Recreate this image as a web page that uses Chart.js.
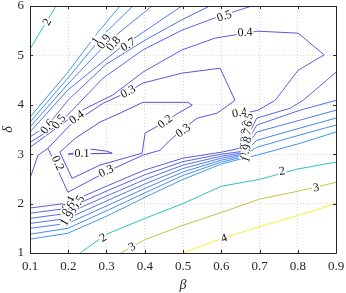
<!DOCTYPE html>
<html>
<head>
<meta charset="utf-8">
<script src="https://cdn.jsdelivr.net/npm/chart.js@4.4.1/dist/chart.umd.min.js"></script>
<style>
  html, body { margin: 0; padding: 0; background: #fff; }
</style>
</head>
<body>
<canvas id="contour" width="346" height="293"></canvas>
<script>
// contour levels and their polylines, [beta, delta] pairs
const levels = [0.1, 0.2, 0.3, 0.4, 0.5, 0.6, 0.7, 0.8, 0.9, 1, 2, 3, 4];

const lv01 = [[0.2, 3.0], [0.262, 3.1], [0.301, 3.06], [0.315, 3.02], [0.2, 3.0]];
const lv02 = [[0.178, 3.04], [0.21, 2.51], [0.283, 2.78], [0.393, 3.02], [0.401, 3.43], [0.453, 3.65],
  [0.487, 3.83], [0.524, 3.99], [0.513, 4.05], [0.395, 4.05], [0.335, 3.83], [0.283, 3.65], [0.218, 3.32], [0.178, 3.04]];
const lv03 = [[0.147, 3.12], [0.199, 2.23], [0.299, 2.64], [0.395, 2.98], [0.44, 3.08], [0.466, 3.28], [0.497, 3.49],
  [0.537, 3.73], [0.589, 3.83], [0.636, 4.09], [0.597, 4.74], [0.497, 4.64], [0.395, 4.44], [0.356, 4.26],
  [0.291, 4.03], [0.205, 3.59], [0.147, 3.12]];
const lv03edge = [[0.1, 2.51], [0.121, 2.98], [0.147, 3.12]];
const lv04 = [[0.1, 3.14], [0.212, 3.77], [0.246, 3.93], [0.317, 4.2], [0.395, 4.66], [0.497, 5.11], [0.584, 5.35],
  [0.696, 5.49], [0.801, 5.45], [0.869, 5.01], [0.801, 4.7], [0.741, 4.09], [0.696, 3.89], [0.662, 3.83],
  [0.649, 3.12], [0.6, 3.04], [0.5, 2.92], [0.4, 2.68], [0.299, 2.35], [0.199, 2.01], [0.1, 1.91]];

// upper-left pieces (left edge to top edge)
const lv05a = [[0.1, 3.24], [0.173, 3.59], [0.291, 4.54], [0.395, 5.11], [0.497, 5.51], [0.584, 5.76], [0.68, 6.0]];
const lv06a = [[0.1, 3.35], [0.147, 3.59], [0.199, 4.09], [0.299, 4.82], [0.401, 5.31], [0.497, 5.72], [0.57, 6.0]];
const lv07a = [[0.1, 3.45], [0.199, 4.3], [0.335, 5.15], [0.497, 6.0]];
const lv08a = [[0.1, 3.55], [0.199, 4.42], [0.309, 5.31], [0.419, 6.0]];
const lv09a = [[0.1, 3.65], [0.199, 4.54], [0.296, 5.45], [0.369, 6.0]];
const lv10a = [[0.1, 3.75], [0.199, 4.66], [0.278, 5.47], [0.335, 6.0]];

// lower band pieces (left edge to right edge)
const lv05b = [[0.1, 1.805], [0.199, 1.906], [0.299, 2.25], [0.401, 2.585], [0.5, 2.85], [0.6, 3.0], [0.649, 3.05],
  [0.693, 3.73], [0.78, 3.93], [0.814, 4.09], [0.9, 4.66]];
const lv06b = [[0.1, 1.7], [0.199, 1.805], [0.299, 2.15], [0.401, 2.49], [0.5, 2.78], [0.6, 2.96], [0.649, 3.02],
  [0.693, 3.59], [0.806, 3.89], [0.9, 4.09]];
const lv07b = [[0.1, 1.6], [0.199, 1.7], [0.299, 2.05], [0.401, 2.4], [0.5, 2.71], [0.6, 2.92], [0.649, 2.99],
  [0.693, 3.45], [0.806, 3.69], [0.9, 3.89]];
const lv08b = [[0.1, 1.5], [0.199, 1.6], [0.299, 1.95], [0.401, 2.31], [0.5, 2.64], [0.6, 2.88], [0.649, 2.96],
  [0.693, 3.28], [0.806, 3.53], [0.9, 3.73]];
const lv09b = [[0.1, 1.38], [0.199, 1.5], [0.299, 1.85], [0.401, 2.22], [0.5, 2.57], [0.6, 2.84], [0.649, 2.93],
  [0.693, 3.14], [0.806, 3.39], [0.9, 3.59]];
const lv10b = [[0.1, 1.28], [0.199, 1.4], [0.299, 1.74], [0.401, 2.13], [0.5, 2.49], [0.6, 2.8], [0.649, 2.9],
  [0.693, 2.98], [0.806, 3.22], [0.9, 3.45]];

const lv2a = [[0.1, 5.13], [0.168, 6.0]];
const lv2b = [[0.231, 1.0], [0.3, 1.38], [0.4, 1.7], [0.5, 2.0], [0.6, 2.35], [0.7, 2.49], [0.8, 2.7], [0.9, 2.84]];
const lv3 = [[0.338, 1.0], [0.4, 1.27], [0.5, 1.56], [0.6, 1.82], [0.7, 2.09], [0.8, 2.25], [0.9, 2.43]];
const lv4 = [[0.5, 1.0], [0.6, 1.29], [0.7, 1.53], [0.8, 1.76], [0.9, 2.0]];

// inline labels: text, beta, delta, angle (deg)
const contourLabels = [
  ['2', 0.144, 5.68, -62], ['1', 0.272, 5.3, -55], ['0.9', 0.293, 5.28, -55], ['0.8', 0.318, 5.24, -50],
  ['0.7', 0.356, 5.22, -32], ['0.5', 0.608, 5.8, -18], ['0.4', 0.662, 5.47, -3], ['0.3', 0.356, 4.27, -28],
  ['0.6', 0.145, 3.56, -52], ['0.5', 0.175, 3.66, -52], ['0.4', 0.222, 3.75, -35], ['0.1', 0.236, 3.02, 0],
  ['0.2', 0.173, 2.82, 65], ['0.3', 0.299, 2.66, -25], ['0.2', 0.453, 3.66, -38], ['0.3', 0.5, 3.48, -38],
  ['0.4', 0.648, 3.84, -10], ['0.5', 0.668, 3.69, -70], ['0.6', 0.666, 3.53, -70], ['0.7', 0.665, 3.37, -70],
  ['0.8', 0.664, 3.21, -70], ['0.9', 0.663, 3.05, -70], ['1', 0.665, 2.9, -70],
  ['0.4', 0.2, 2.0, -60], ['0.5', 0.225, 2.02, -60], ['0.6', 0.2, 1.9, -60], ['0.8', 0.205, 1.78, -60],
  ['0.9', 0.198, 1.7, -60], ['1', 0.19, 1.62, -60],
  ['2', 0.291, 1.31, -30], ['2', 0.759, 2.66, -8], ['3', 0.367, 1.13, -30], ['3', 0.848, 2.33, -10],
  ['4', 0.607, 1.3, -18]
];

const xTicks = [0.1, 0.2, 0.3, 0.4, 0.5, 0.6, 0.7, 0.8, 0.9];
const yTicks = [1, 2, 3, 4, 5, 6];

const levelColors = {
  0.1: '#5c4bd2', 0.2: '#5c50d8', 0.3: '#5b55dd', 0.4: '#5a5ce2', 0.5: '#5865e8', 0.6: '#546fec',
  0.7: '#4f79ef', 0.8: '#4a83f1', 0.9: '#448df1', 1: '#3e97ef', 2: '#2cc3bd', 3: '#c6c244', 4: '#f4f22e'
};

const pieces = [
  [0.1, lv01], [0.2, lv02], [0.3, lv03], [0.3, lv03edge], [0.4, lv04],
  [0.5, lv05a], [0.6, lv06a], [0.7, lv07a], [0.8, lv08a], [0.9, lv09a], [1, lv10a],
  [0.5, lv05b], [0.6, lv06b], [0.7, lv07b], [0.8, lv08b], [0.9, lv09b], [1, lv10b],
  [2, lv2a], [2, lv2b], [3, lv3], [4, lv4]
];

const datasets = pieces.map(([lvl, pts]) => ({
  label: String(lvl),
  data: pts.map(p => ({ x: p[0], y: p[1] })),
  showLine: true,
  borderColor: levelColors[lvl],
  borderWidth: 1,
  pointRadius: 0,
  tension: 0,
  fill: false
}));

const serif = '"Liberation Serif", "Times New Roman", serif';

const labelPlugin = {
  id: 'clabels',
  afterDatasetsDraw(chart) {
    const { ctx, scales: { x, y } } = chart;
    ctx.save();
    ctx.font = '12px ' + serif;
    ctx.textAlign = 'center';
    ctx.textBaseline = 'middle';
    for (const [txt, b, d, rot] of contourLabels) {
      ctx.save();
      ctx.translate(x.getPixelForValue(b), y.getPixelForValue(d));
      ctx.rotate(rot * Math.PI / 180);
      const w = ctx.measureText(txt).width + 2;
      ctx.fillStyle = '#fff';
      ctx.fillRect(-w / 2, -4.5, w, 9);
      ctx.fillStyle = '#111';
      ctx.fillText(txt, 0, 0.5);
      ctx.restore();
    }
    ctx.restore();
  }
};

const framePlugin = {
  id: 'frame',
  afterDraw(chart) {
    const { ctx, chartArea: a, scales: { x, y } } = chart;
    ctx.save();
    ctx.strokeStyle = '#262626';
    ctx.lineWidth = 1;
    ctx.beginPath();
    ctx.rect(Math.round(a.left) + 0.5, Math.round(a.top) + 0.5, Math.round(a.right - a.left), Math.round(a.bottom - a.top));
    for (const t of xTicks) {
      const px = Math.round(x.getPixelForValue(t)) + 0.5;
      ctx.moveTo(px, a.bottom); ctx.lineTo(px, a.bottom - 3);
      ctx.moveTo(px, a.top); ctx.lineTo(px, a.top + 3);
    }
    for (const t of yTicks) {
      const py = Math.round(y.getPixelForValue(t)) + 0.5;
      ctx.moveTo(a.left, py); ctx.lineTo(a.left + 3, py);
      ctx.moveTo(a.right, py); ctx.lineTo(a.right - 3, py);
    }
    ctx.stroke();
    // axis titles
    ctx.fillStyle = '#262626';
    ctx.font = 'italic 14px ' + serif;
    ctx.textAlign = 'center';
    ctx.textBaseline = 'middle';
    ctx.fillText('β', (a.left + a.right) / 2, 285);
    ctx.translate(8, (a.top + a.bottom) / 2);
    ctx.rotate(-Math.PI / 2);
    ctx.fillText('δ', 0, 0);
    ctx.restore();
  }
};

new Chart(document.getElementById('contour'), {
  type: 'scatter',
  data: { datasets },
  options: {
    responsive: false,
    animation: false,
    layout: { autoPadding: false, padding: { top: 6, right: 10, left: 0, bottom: 0 } },
    plugins: { legend: { display: false }, tooltip: { enabled: false } },
    scales: {
      x: {
        type: 'linear', min: 0.1, max: 0.9,
        afterFit: s => { s.height = 40; s.paddingLeft = 0; s.paddingRight = 0; },
        afterBuildTicks: s => { s.ticks = xTicks.map(v => ({ value: v })); },
        ticks: { padding: 6, color: '#262626', font: { family: serif, size: 13 }, callback: v => v.toFixed(1) },
        grid: { color: '#dadada', drawTicks: false },
        border: { display: false, dash: [1, 2] }
      },
      y: {
        min: 1, max: 6,
        afterFit: s => { s.width = 30; s.paddingTop = 0; s.paddingBottom = 0; },
        afterBuildTicks: s => { s.ticks = yTicks.map(v => ({ value: v })); },
        ticks: { padding: 6, color: '#262626', font: { family: serif, size: 13 } },
        grid: { color: '#dadada', drawTicks: false },
        border: { display: false, dash: [1, 2] }
      }
    }
  },
  plugins: [labelPlugin, framePlugin]
});
</script>
</body>
</html>
